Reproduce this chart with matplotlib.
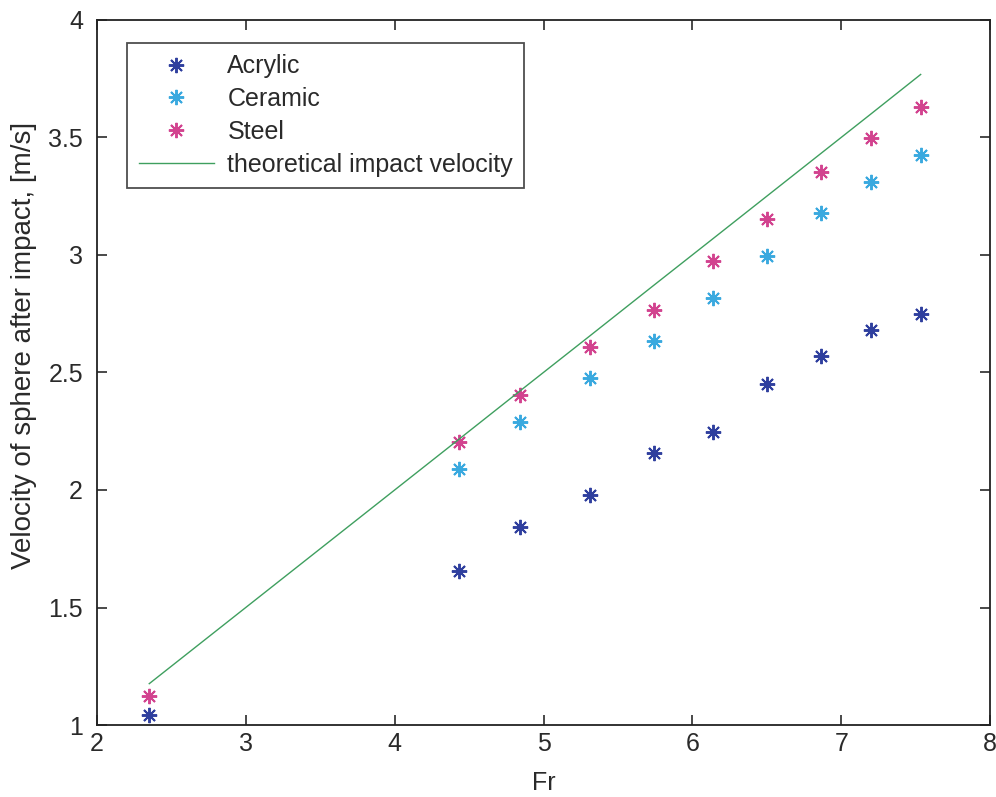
import matplotlib
matplotlib.use("Agg")
import matplotlib.pyplot as plt

plt.rcParams['font.family'] = ['Liberation Sans', 'DejaVu Sans']

# Froude numbers of the drop heights
fr = [2.351, 4.432, 4.841, 5.31, 5.739, 6.14, 6.50, 6.866, 7.198, 7.534]
fr_ceramic = fr[1:]

# Measured velocity after impact [m/s]
acrylic = [1.041, 1.656, 1.841, 1.979, 2.159, 2.248, 2.452, 2.568, 2.679, 2.750]
ceramic = [2.088, 2.291, 2.476, 2.632, 2.817, 2.994, 3.179, 3.311, 3.424]
steel = [1.122, 2.203, 2.405, 2.608, 2.767, 2.976, 3.152, 3.355, 3.496, 3.629]
theory = [1.176, 2.216, 2.421, 2.655, 2.870, 3.070, 3.250, 3.433, 3.599, 3.768]

fig = plt.figure(figsize=(9.96, 7.97), dpi=100)
ax = fig.add_axes([0.0974, 0.0903, 0.8966, 0.8847])

mk = dict(marker=(8, 2, 0), linestyle='none', markersize=11, markeredgewidth=1.4)
ax.plot(fr, acrylic, color='#2f3f9e', label='Acrylic', **mk)
ax.plot(fr_ceramic, ceramic, color='#3aa9df', label='Ceramic', **mk)
ax.plot(fr, steel, color='#d2438f', label='Steel', **mk)
ax.plot(fr, theory, color='#3f9f5f', linewidth=1.0, label='theoretical impact velocity')

ax.set_xlim(2, 8)
ax.set_ylim(1, 4)
ax.set_xticks([2, 3, 4, 5, 6, 7, 8])
ax.set_yticks([1, 1.5, 2, 2.5, 3, 3.5, 4])
ax.set_yticklabels(['1', '1.5', '2', '2.5', '3', '3.5', '4'])
ax.tick_params(direction='in', top=True, right=True, length=7, width=1.2,
               labelsize=18, colors='#2a2a2a')
ax.tick_params(axis='x', pad=5)
ax.tick_params(axis='y', pad=10)
for s in ax.spines.values():
    s.set_linewidth(1.3)
    s.set_color('#222222')

ax.set_xlabel('Fr', fontsize=18, color='#2a2a2a')
ax.xaxis.set_label_coords(0.5, -0.082)
ax.xaxis.label.set_va('center')
ax.set_ylabel('Velocity of sphere after impact, [m/s]', fontsize=20,
              color='#2a2a2a')
ax.yaxis.set_label_coords(-0.082, 0.538)
ax.yaxis.label.set_va('center')

leg = ax.legend(loc='upper left', bbox_to_anchor=(0.034, 0.967), borderaxespad=0,
                fontsize=18, frameon=True, fancybox=False, edgecolor='#222222',
                labelspacing=0.35, handlelength=3.0, handletextpad=0.55,
                borderpad=0.45)
leg.get_frame().set_linewidth(1.3)
for t in leg.get_texts():
    t.set_color('#2a2a2a')

fig.savefig('out.png', dpi=100)
